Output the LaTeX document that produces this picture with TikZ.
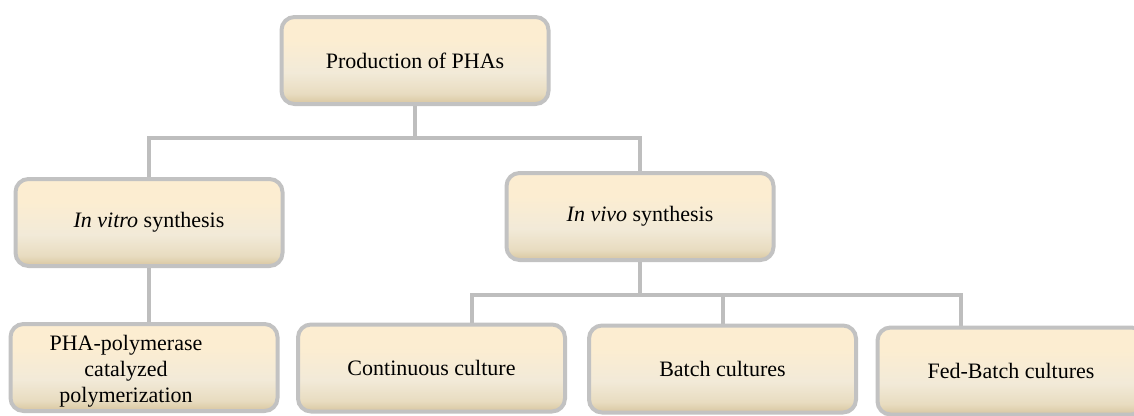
\documentclass[tikz,border=0pt]{standalone}
\usepackage{fontspec}
\setmainfont{Liberation Serif}
\usetikzlibrary{backgrounds}
\definecolor{boxtop}{HTML}{FCEDD1}
\definecolor{boxmid}{HTML}{F2EAD8}
\definecolor{boxlow}{HTML}{E8DCC0}
\definecolor{boxbot}{HTML}{D8C6A0}
\definecolor{edgegray}{HTML}{C2C2C2}
\definecolor{linkgray}{HTML}{BEBEBE}
\pgfdeclareverticalshading{boxshade}{100bp}{color(0bp)=(boxbot); color(25bp)=(boxbot); color(31bp)=(boxlow); color(43bp)=(boxmid); color(62bp)=(boxtop); color(100bp)=(boxtop)}
\tikzset{
  stagebox/.style={rectangle, rounded corners=13pt, draw=edgegray, line width=4pt,
    shading=boxshade, minimum width=267pt, minimum height=87pt, inner sep=0pt,
    font=\fontsize{22}{26}\selectfont, align=center},
  link/.style={draw=linkgray, line width=4pt}
}
\begin{document}
\begin{tikzpicture}[x=1pt,y=-1pt]
\useasboundingbox (0,0) rectangle (1134,415);
\clip (0,0) rectangle (1134,415);
\node[stagebox] (top) at (415,60.5) {Production of PHAs};
\node[stagebox] (vitro) at (149,222.5) {\textit{In vitro} synthesis};
\node[stagebox] (vivo) at (640,216.5) {\textit{In vivo} synthesis};
\node[stagebox] (pha) at (144,367.5) {};
\node[font=\fontsize{22}{26}\selectfont, align=center] (phatext) at (126,371) {PHA-polymerase\\catalyzed\\polymerization};
\node[stagebox] (cont) at (431.5,368) {Continuous culture};
\node[stagebox] (batch) at (722.5,369) {Batch cultures};
\node[stagebox] (fed) at (1011,371) {Fed-Batch cultures};
\coordinate (j1) at (415,138);
\coordinate (j2) at (640,295);
\begin{scope}[on background layer]
\draw[link] (top.south) -- (j1);
\draw[link] (vitro.north) -- (vitro.north |- j1) -- (vivo.north |- j1) -- (vivo.north);
\draw[link] (vitro.south) -- (vitro.south |- pha.north);
\draw[link] (vivo.south) -- (j2);
\draw[link] (472,330) -- (472,295) -- (961,295) -- (961,330);
\draw[link] (batch.north) -- (batch.north |- j2);
\end{scope}
\end{tikzpicture}
\end{document}
